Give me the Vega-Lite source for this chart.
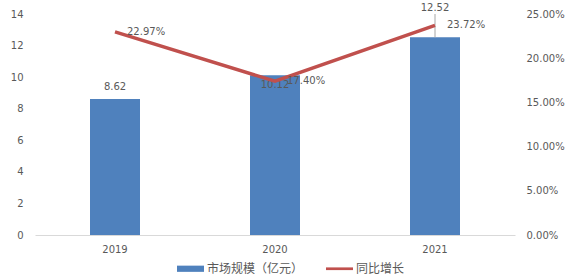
{
  "$schema": "https://vega.github.io/schema/vega-lite/v6.json",
  "width": 480,
  "height": 221,
  "autosize": "none",
  "padding": {"left": 35, "top": 14, "right": 65, "bottom": 42},
  "background": "white",
  "config": {
    "view": {"stroke": null},
    "font": "DejaVu Sans",
    "axis": {"labelFont": "DejaVu Sans", "labelFontSize": 10, "labelColor": "#595959", "grid": false, "ticks": false, "title": null, "labelOverlap": false, "labelFlush": false}
  },
  "data": {
    "values": [
      {"year": "2019", "size": 8.62, "growth": 0.2297},
      {"year": "2020", "size": 10.12, "growth": 0.1740},
      {"year": "2021", "size": 12.52, "growth": 0.2372}
    ]
  },
  "encoding": {
    "x": {"field": "year", "type": "nominal", "scale": {"paddingInner": 0, "paddingOuter": 0},
      "axis": {"labelAngle": 0, "domainColor": "#D9D9D9", "labelPadding": 9}}
  },
  "layer": [
    {
      "layer": [
        {
          "mark": {"type": "bar", "width": 50},
          "encoding": {
            "y": {"field": "size", "type": "quantitative", "scale": {"domain": [0, 14], "nice": false},
              "axis": {"values": [0, 2, 4, 6, 8, 10, 12, 14], "tickCount": 8, "format": "d", "domain": false, "labelPadding": 12, "labelOverlap": false, "labelFlush": false, "labelBound": false}},
            "color": {"datum": "市场规模（亿元）", "type": "nominal",
              "scale": {"domain": ["市场规模（亿元）", "同比增长"], "range": ["#4F81BD", "#C0504D"]},
              "legend": {
                "orient": "none", "legendX": 142, "legendY": 241, "direction": "horizontal", "title": null,
                "padding": 0, "columnPadding": 22, "labelOffset": 3, "symbolSize": 729,
                "labelFont": "Noto Sans CJK SC", "labelFontSize": 12, "labelColor": "#595959",
                "encode": {"symbols": {"update": {
                  "shape": {"signal": "datum.value === '同比增长' ? 'M-1,-0.1h2v0.2h-2Z' : 'M-1,-0.23h2v0.46h-2Z'"},
                  "size": {"value": 729},
                  "fill": {"scale": "color", "field": "value"},
                  "stroke": {"value": null},
                  "strokeWidth": {"value": 0},
                  "opacity": {"value": 1},
                  "fillOpacity": {"value": 1}
                }}}
              }}
          }
        },
        {
          "transform": [{"filter": "datum.year === '2021'"}],
          "mark": {"type": "rule", "color": "#A6A6A6", "strokeWidth": 1},
          "encoding": {"y": {"field": "size", "type": "quantitative"}, "y2": {"datum": 14}}
        },
        {
          "transform": [{"filter": "datum.year === '2019'"}],
          "mark": {"type": "text", "dy": -12, "fontSize": 10, "color": "#595959"},
          "encoding": {"y": {"field": "size", "type": "quantitative"}, "text": {"field": "size", "type": "quantitative", "format": ".2f"}}
        },
        {
          "transform": [{"filter": "datum.year === '2020'"}],
          "mark": {"type": "text", "dy": 10, "fontSize": 10, "color": "#595959"},
          "encoding": {"y": {"field": "size", "type": "quantitative"}, "text": {"field": "size", "type": "quantitative", "format": ".2f"}}
        },
        {
          "transform": [{"filter": "datum.year === '2021'"}],
          "mark": {"type": "text", "dy": -29, "fontSize": 10, "color": "#595959"},
          "encoding": {"y": {"field": "size", "type": "quantitative"}, "text": {"field": "size", "type": "quantitative", "format": ".2f"}}
        }
      ]
    },
    {
      "layer": [
        {
          "mark": {"type": "line", "strokeWidth": 3.5},
          "encoding": {
            "y": {"field": "growth", "type": "quantitative", "scale": {"domain": [0, 0.25], "nice": false},
              "axis": {"orient": "right", "values": [0, 0.05, 0.1, 0.15, 0.2, 0.25], "format": ".2%", "domain": false, "labelPadding": 11, "labelOverlap": false, "labelFlush": false}},
            "color": {"datum": "同比增长", "type": "nominal"}
          }
        },
        {
          "mark": {"type": "text", "align": "left", "baseline": "middle", "dx": 12, "fontSize": 10, "color": "#595959"},
          "encoding": {
            "y": {"field": "growth", "type": "quantitative"},
            "text": {"field": "growth", "type": "quantitative", "format": ".2%"}
          }
        }
      ]
    }
  ],
  "resolve": {"scale": {"y": "independent"}}
}
